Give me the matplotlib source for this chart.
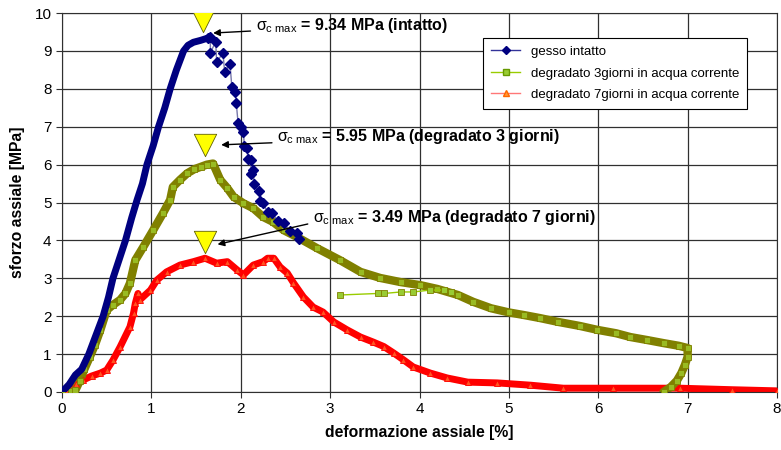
import matplotlib
matplotlib.use("Agg")
import matplotlib.pyplot as plt
from matplotlib.lines import Line2D

plt.rcParams['font.family'] = ['Liberation Sans', 'DejaVu Sans']
plt.rcParams['mathtext.fontset'] = 'custom'
plt.rcParams['mathtext.rm'] = 'Liberation Sans'
plt.rcParams['mathtext.it'] = 'Liberation Sans'

# gesso intatto
blue_x = [0, 0.08, 0.15, 0.22, 0.3, 0.38, 0.46, 0.52, 0.57, 0.64, 0.71, 0.78, 0.84, 0.9, 0.95,
          1.02, 1.08, 1.15, 1.21, 1.28, 1.36, 1.41, 1.47, 1.55, 1.63,
          1.66, 1.66, 1.72, 1.73, 1.80, 1.82, 1.88, 1.90, 1.94, 1.95, 1.97, 2.0, 2.03, 2.04,
          2.07, 2.08, 2.11, 2.12, 2.14, 2.15, 2.2, 2.22, 2.25, 2.3, 2.35, 2.42, 2.48, 2.55,
          2.63, 2.65]
blue_y = [0, 0.2, 0.45, 0.6, 1.0, 1.5, 2.0, 2.5, 3.0, 3.5, 4.0, 4.6, 5.07, 5.5, 6.0,
          6.5, 7.0, 7.5, 8.0, 8.5, 9.0, 9.15, 9.23, 9.28, 9.34,
          9.37, 8.95, 9.25, 8.7, 8.95, 8.45, 8.65, 8.05, 7.92, 7.62, 7.1, 7.0, 6.85, 6.5,
          6.43, 6.15, 6.12, 5.75, 5.86, 5.5, 5.3, 5.05, 4.98, 4.75, 4.72, 4.5, 4.46, 4.25,
          4.19, 4.05]

# degradato 3 giorni
green_x = [0, 0.1, 0.15, 0.2, 0.25, 0.31, 0.37, 0.43, 0.5, 0.57, 0.65, 0.71, 0.76, 0.82, 0.91,
           1.02, 1.13, 1.21, 1.24, 1.32, 1.4, 1.48, 1.55, 1.62, 1.69, 1.77, 1.85, 1.92,
           2.03, 2.14, 2.25, 2.36, 2.48, 2.63, 2.85, 3.11, 3.34, 3.56, 3.79, 4.01, 4.2, 4.43,
           4.6, 4.8, 5.0, 5.17, 5.35, 5.55, 5.8, 5.99, 6.2, 6.36, 6.55, 6.73, 6.9, 7.0,
           7.0, 6.97, 6.93, 6.88, 6.81, 6.73]
green_y = [0, 0.02, 0.05, 0.3, 0.6, 0.92, 1.25, 1.64, 2.16, 2.3, 2.43, 2.6, 2.87, 3.48, 3.83,
           4.27, 4.72, 5.07, 5.41, 5.6, 5.77, 5.88, 5.94, 6.0, 6.03, 5.6, 5.38, 5.15,
           4.98, 4.85, 4.62, 4.49, 4.27, 4.09, 3.8, 3.48, 3.17, 3.01, 2.9, 2.82, 2.72, 2.56,
           2.38, 2.21, 2.1, 2.03, 1.95, 1.85, 1.74, 1.64, 1.55, 1.45, 1.37, 1.29, 1.22, 1.16,
           0.93, 0.72, 0.5, 0.3, 0.13, 0.0]
green2_x = [3.11, 3.53, 3.6, 3.79, 3.93, 4.12, 4.27, 4.35]
green2_y = [2.56, 2.6, 2.6, 2.64, 2.64, 2.69, 2.69, 2.64]

# degradato 7 giorni
red_x = [0, 0.05, 0.09, 0.16, 0.24, 0.33, 0.43, 0.5, 0.57, 0.65, 0.76, 0.8, 0.82, 0.85, 0.87,
         0.99, 1.06, 1.17, 1.32, 1.47, 1.6, 1.73, 1.85, 1.96, 2.03, 2.14, 2.25, 2.3, 2.37,
         2.44, 2.52, 2.59, 2.7, 2.81, 2.92, 3.04, 3.19, 3.34, 3.48, 3.6, 3.71, 3.82, 3.93,
         4.12, 4.31, 4.54, 4.87, 5.24, 5.61, 6.17, 6.92, 7.5, 8.0]
red_y = [0, 0.05, 0.13, 0.22, 0.32, 0.42, 0.5, 0.58, 0.84, 1.19, 1.72, 2.08, 2.34, 2.6, 2.43,
         2.69, 2.95, 3.17, 3.35, 3.44, 3.53, 3.4, 3.44, 3.22, 3.09, 3.35, 3.44, 3.53, 3.53,
         3.3, 3.14, 2.88, 2.51, 2.24, 2.11, 1.85, 1.64, 1.45, 1.32, 1.2, 1.03, 0.85, 0.66,
         0.5, 0.37, 0.26, 0.24, 0.18, 0.1, 0.1, 0.1, 0.06, 0.03]

labels = ['gesso intatto',
          'degradato 3giorni in acqua corrente',
          'degradato 7giorni in acqua corrente']

peaks_x = [1.58, 1.6, 1.6]
peaks_y = [9.78, 6.52, 3.95]
ann_texts = [r'$\sigma_{\mathrm{c\ max}}$ = 9.34 MPa (intatto)',
             r'$\sigma_{\mathrm{c\ max}}$ = 5.95 MPa (degradato 3 giorni)',
             r'$\sigma_{\mathrm{c\ max}}$ = 3.49 MPa (degradato 7 giorni)']
ann_text_xy = [(2.17, 9.68), (2.41, 6.73), (2.81, 4.6)]
ann_head_xy = [(1.66, 9.47), (1.75, 6.52), (1.71, 3.88)]

fig = plt.figure(figsize=(7.81, 4.5), dpi=100)
ax = fig.add_axes([0.0794, 0.1289, 0.9155, 0.842])

# red: dense band with markers
ax.plot(red_x, red_y, color='#ff0000', lw=5, solid_capstyle='round',
        solid_joinstyle='round', zorder=2)
ax.plot(red_x, red_y, ls='none', marker='^', ms=4.5, mfc='#ff5522', mec='#ff0000',
        mew=0.6, zorder=3)

# green: dense band with markers, plus the short separate stretch
ax.plot(green_x, green_y, color='#808000', lw=6, solid_capstyle='round',
        solid_joinstyle='round', zorder=2)
ax.plot(green_x, green_y, ls='none', marker='s', ms=5, mfc='#99bb22', mec='#808000',
        mew=0.6, zorder=3)
ax.plot(green2_x, green2_y, color='#99cc00', lw=1, marker='s', ms=5,
        mfc='#99cc33', mec='#808000', mew=0.6, zorder=3)

# blue: dense rising part, sparse falling part
ax.plot(blue_x[:25], blue_y[:25], color='#000080', lw=5, solid_capstyle='round',
        solid_joinstyle='round', zorder=4)
ax.plot(blue_x[24:], blue_y[24:], color='#7777aa', lw=1, marker='D', ms=5,
        mfc='#000080', mec='#000080', zorder=5)

# peak markers and annotations
ax.scatter(peaks_x, peaks_y, marker='v', s=260, color='#ffff00', edgecolor='#606000',
           linewidth=0.6, zorder=6)
for t, txy, hxy in zip(ann_texts, ann_text_xy, ann_head_xy):
    ax.annotate('', xy=hxy, xytext=(txy[0] - 0.03, txy[1] - 0.15),
                arrowprops=dict(arrowstyle='-|>', color='black', lw=1, mutation_scale=10),
                zorder=7)
    ax.text(txy[0], txy[1], t, fontsize=11.5, fontweight='bold', va='center', ha='left',
            zorder=7)

ax.set_xlim(0, 8)
ax.set_ylim(0, 10)
ax.set_xticks(range(0, 9))
ax.set_yticks(range(0, 11))
ax.grid(True, color='#303030', lw=0.9)
ax.set_axisbelow(True)
for s in ax.spines.values():
    s.set_color('#303030')
ax.tick_params(labelsize=11, length=4, color='#303030')
ax.set_xlabel('deformazione assiale [%]', fontsize=11.3, fontweight='bold', labelpad=6)
ax.set_ylabel('sforzo assiale [MPa]', fontsize=11.3, fontweight='bold', labelpad=7)

handles = [
    Line2D([], [], color='#333399', lw=1, marker='D', ms=4, mfc='#000080', mec='#000080'),
    Line2D([], [], color='#99cc00', lw=1, marker='s', ms=5, mfc='#99cc33', mec='#669900'),
    Line2D([], [], color='#ff7777', lw=1, marker='^', ms=5, mfc='#ff9933', mec='#ff6600'),
]
leg = ax.legend(handles, labels, loc='upper left', bbox_to_anchor=(0.58, 0.952),
                fontsize=9.5, frameon=True, fancybox=False, edgecolor='black',
                framealpha=1, handlelength=2.2, labelspacing=0.7, borderpad=0.6)
leg.get_frame().set_linewidth(0.8)
leg.set_zorder(10)

fig.savefig('out.png', dpi=100)
